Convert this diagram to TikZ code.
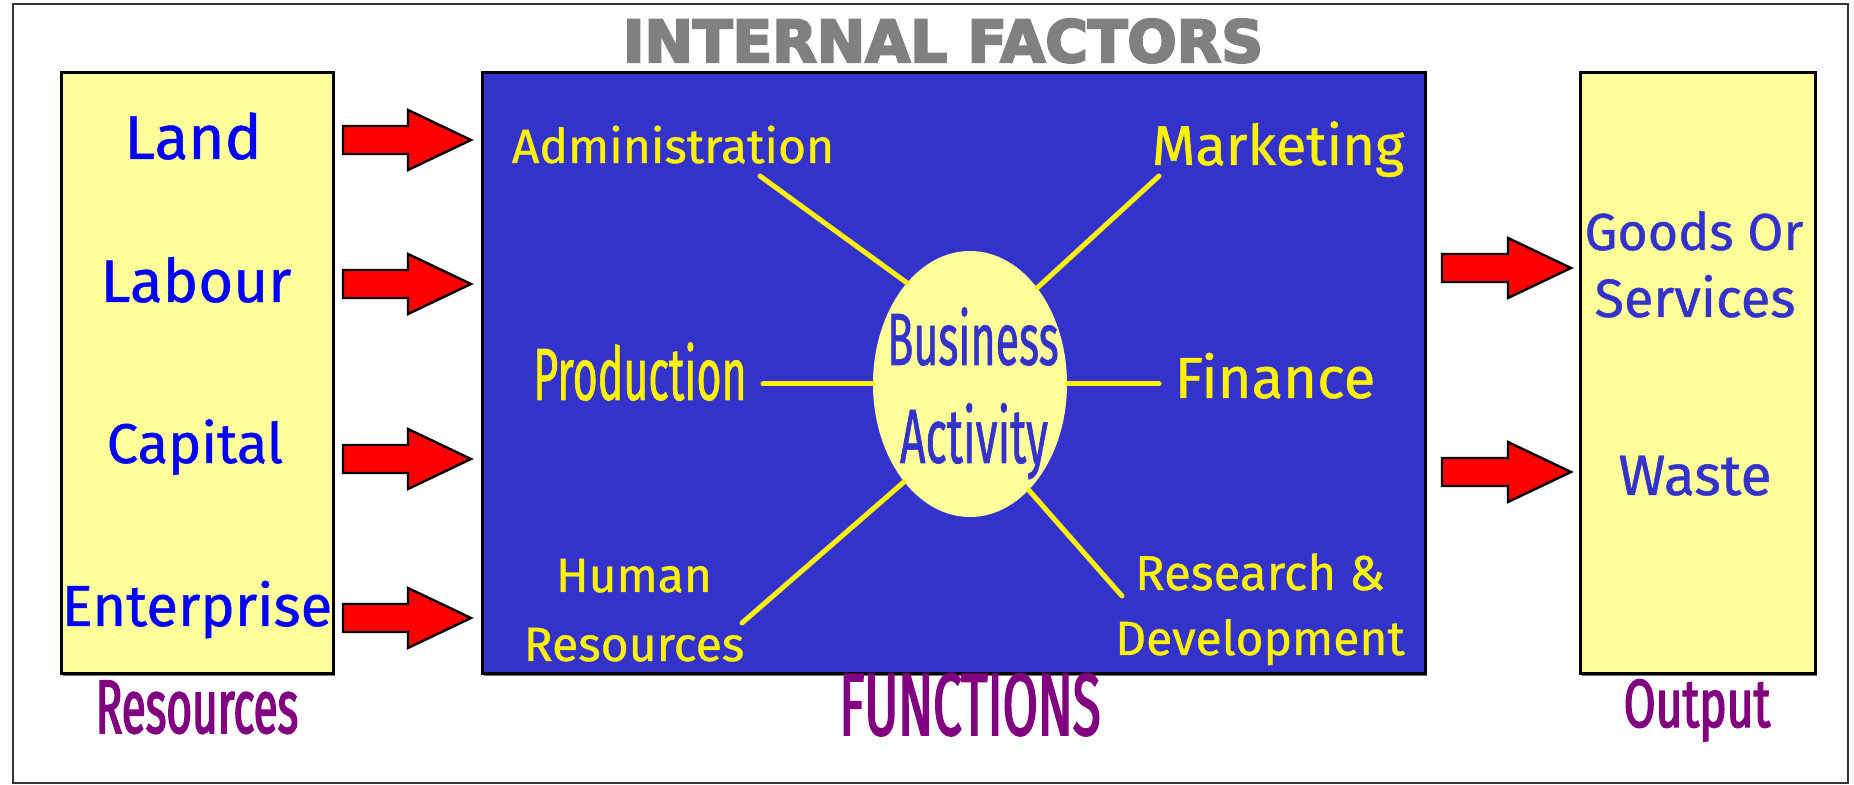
\documentclass[tikz,border=0pt]{standalone}
\usepackage{fontspec}
\setmainfont[FakeBold=0.8]{Fira Sans}
\newfontfamily\narrowfont[FakeStretch=0.68,FakeBold=2]{Fira Sans}
\newfontfamily\tallfont[FakeStretch=0.58,FakeBold=0.8]{Fira Sans}
\newfontfamily\capfont[FakeStretch=0.58,FakeBold=2]{Fira Sans}
\newfontfamily\titlefont[FakeBold=4]{DejaVu Sans}
\usetikzlibrary{positioning,fit,shapes.geometric,shadows}
\definecolor{funcblue}{RGB}{51,51,204}
\definecolor{paleyellow}{RGB}{255,255,153}
\definecolor{titlegray}{RGB}{128,128,128}
\definecolor{labelpurple}{RGB}{128,0,128}

\begin{document}
\begin{tikzpicture}[x=0.5pt,y=-0.5pt,
	panel/.style={draw=black,line width=1.5pt,inner sep=0pt,
		drop shadow={shadow xshift=1.2pt,shadow yshift=-1.2pt,fill=black!55,opacity=1}},
	redarrow/.style={fill=red,draw=black,line width=1.2pt,line join=miter},
	spoke/.style={draw=yellow,line width=2.5pt,line cap=round},
	resource/.style={anchor=base,text=blue},
	function/.style={anchor=base,text=yellow},
	outcome/.style={anchor=base,text=funcblue},
	caption/.style={anchor=base,text=labelpurple}]
	\useasboundingbox (0,0) rectangle (1854,785);
	\draw[black!80,line width=1pt] (13,4) rectangle (1848,783);
	% the three panels
	\node[panel,fill=paleyellow,fit={(61,73) (333,674)}] (res) {};
	\node[panel,fill=funcblue,fit={(482,73) (1425,674)}] (func) {};
	\node[panel,fill=paleyellow,fit={(1580,73) (1815,674)}] (out) {};
	\node[anchor=base,text=titlegray,font=\titlefont\bfseries\fontsize{29}{34}\selectfont] (title) at (943,62) {INTERNAL FACTORS};
	% inputs
	\node[resource,font=\fontsize{31}{36}\selectfont] (land) at (193,159) {Land};
	\node[resource,font=\fontsize{30}{36}\selectfont] (labour) at (196,302) {Labour};
	\node[resource,font=\fontsize{28}{34}\selectfont] (capital) at (195,463) {Capital};
	\node[resource,font=\fontsize{29}{34}\selectfont] (enterprise) at (197,626) {Enterprise};
	\foreach \y in {140,284,459,618}
		\draw[redarrow] (343,\y-14) -- (408,\y-14) -- (408,\y-30) -- (471,\y) -- (408,\y+30) -- (408,\y+14) -- (343,\y+14) -- cycle;
	% functions round the centre
	\node[ellipse,fill=paleyellow,minimum width=97pt,minimum height=133pt,inner sep=0pt] (biz) at (970,384) {};
	\node[anchor=base,text=funcblue,font=\tallfont\fontsize{37}{44}\selectfont] (biz1) at (973,365) {Business};
	\node[anchor=base,text=funcblue,font=\tallfont\fontsize{38.5}{44}\selectfont] (biz2) at (974,463) {Activity};
	\node[function,font=\fontsize{24}{30}\selectfont] (admin) at (673,163) {Administration};
	\node[function,font=\fontsize{28}{34}\selectfont] (marketing) at (1278,165) {Marketing};
	\node[function,font=\tallfont\fontsize{37}{44}\selectfont] (production) at (640,400) {Production};
	\node[function,font=\fontsize{29}{34}\selectfont] (finance) at (1275,398) {Finance};
	\node[function,font=\fontsize{24}{30}\selectfont] (hr1) at (634,592) {Human};
	\node[function,font=\fontsize{24}{30}\selectfont] (hr2) at (634,661) {Resources};
	\node[function,font=\fontsize{24.5}{30}\selectfont] (rd1) at (1260,590) {Research \&};
	\node[function,font=\fontsize{24}{30}\selectfont] (rd2) at (1260,655) {Development};
	\coordinate (adminEnd) at (760,176);
	\coordinate (marketEnd) at (1159,176);
	\coordinate (prodEnd) at (763,384);
	\coordinate (finEnd) at (1159,384);
	\coordinate (hrEnd) at (742,623);
	\coordinate (rdEnd) at (1122,596);
	\draw[spoke] (adminEnd) -- (biz.122);
	\draw[spoke] (marketEnd) -- (biz.55);
	\draw[spoke] (prodEnd) -- (biz.west);
	\draw[spoke] (finEnd) -- (biz.east);
	\draw[spoke] (hrEnd) -- (biz.236);
	\draw[spoke] (rdEnd) -- (biz.299);
	% outputs
	\foreach \y in {268,472}
		\draw[redarrow] (1442,\y-14) -- (1508,\y-14) -- (1508,\y-30) -- (1571,\y) -- (1508,\y+30) -- (1508,\y+14) -- (1442,\y+14) -- cycle;
	\node[outcome,font=\fontsize{26}{32}\selectfont] (goods) at (1694,250) {Goods Or};
	\node[outcome,font=\fontsize{27}{32}\selectfont] (services) at (1695,317) {Services};
	\node[outcome,font=\fontsize{28.5}{34}\selectfont] (waste) at (1695,495) {Waste};
	% captions
	\node[caption,font=\capfont\fontsize{38}{44}\selectfont] (resCap) at (197,733) {Resources};
	\node[caption,font=\capfont\fontsize{44}{50}\selectfont] (funcCap) at (970,735) {FUNCTIONS};
	\node[caption,font=\narrowfont\fontsize{34}{40}\selectfont] (outCap) at (1697,727) {Output};
\end{tikzpicture}
\end{document}
